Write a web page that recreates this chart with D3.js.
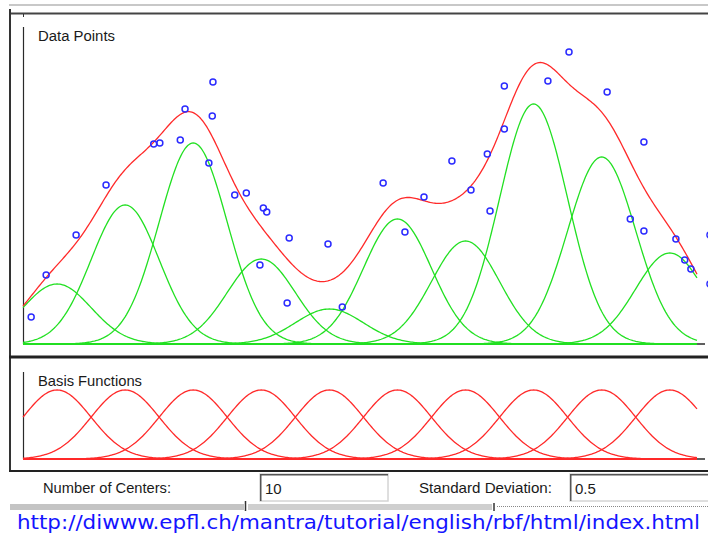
<!DOCTYPE html>
<html>
<head>
<meta charset="utf-8">
<script src="https://cdn.jsdelivr.net/npm/d3@7"></script>
<style>
  html, body { margin: 0; padding: 0; background: #fff; overflow: hidden; }
  svg { display: block; }
</style>
</head>
<body>
<svg id="chart" width="708" height="534"></svg>
<script>
// ---- data ----
const numCenters = 10;
const stdDev = 0.5;
const centers = [0, 1, 2, 3, 4, 5, 6, 7, 8, 9];
const weights = [0.60, 1.39, 2.01, 0.85, 0.35, 1.25, 1.03, 2.40, 1.87, 0.91];
const pointsX = [-0.38, -0.16, 0.28, 0.72, 1.42, 1.51, 1.81, 1.88, 2.23, 2.28, 2.29, 2.61, 2.78, 2.98, 3.03, 3.08, 3.38, 3.41, 3.98, 4.19, 4.79, 5.11, 5.39, 5.80, 6.08, 6.32, 6.36, 6.57, 6.57, 7.21, 7.52, 8.08, 8.42, 8.62, 8.62, 9.09, 9.22, 9.31, 9.59, 9.59];
const pointsY = [0.27, 0.69, 1.09, 1.59, 2.00, 2.01, 2.04, 2.35, 1.81, 2.28, 2.62, 1.49, 1.51, 0.79, 1.36, 1.32, 0.41, 1.06, 1.00, 0.37, 1.61, 1.12, 1.47, 1.83, 1.54, 1.90, 1.33, 2.58, 2.15, 2.63, 2.92, 2.52, 1.25, 2.02, 1.13, 1.05, 0.84, 0.75, 1.09, 0.60];
const xDomain = [-0.5, 9.4];
const topYDomain = [0, 3.17];
const basisYDomain = [0, 1];
const labels = {
  top: "Data Points",
  bottom: "Basis Functions",
  centers: "Number of Centers:",
  sd: "Standard Deviation:",
  url: "http://diwww.epfl.ch/mantra/tutorial/english/rbf/html/index.html"
};

// ---- drawing ----
const svg = d3.select("#chart");
const gauss = (x, c) => Math.exp(-((x - c) * (x - c)) / (2 * stdDev * stdDev));
const xs = d3.range(xDomain[0], xDomain[1] + 1e-9, 0.02);

const x = d3.scaleLinear().domain(xDomain).range([23, 697]);
const yTop = d3.scaleLinear().domain(topYDomain).range([344, 27]);
const yBot = d3.scaleLinear().domain(basisYDomain).range([459, 390]);

// window chrome
svg.append("line").attr("x1", 9).attr("x2", 708).attr("y1", 5).attr("y2", 5)
  .attr("stroke", "#c8c8c8").attr("stroke-width", 2);
svg.append("line").attr("x1", 9).attr("x2", 708).attr("y1", 13.5).attr("y2", 13.5)
  .attr("stroke", "#444").attr("stroke-width", 2);
svg.append("line").attr("x1", 10).attr("x2", 10).attr("y1", 9).attr("y2", 472)
  .attr("stroke", "#333").attr("stroke-width", 2);
svg.append("line").attr("x1", 9).attr("x2", 708).attr("y1", 357).attr("y2", 357)
  .attr("stroke", "#222").attr("stroke-width", 3);
svg.append("line").attr("x1", 9).attr("x2", 708).attr("y1", 471).attr("y2", 471)
  .attr("stroke", "#222").attr("stroke-width", 2);
svg.append("line").attr("x1", 23.5).attr("x2", 23.5).attr("y1", 14).attr("y2", 17)
  .attr("stroke", "#333").attr("stroke-width", 1);

// axes (plain lines)
const axisColor = "#2a2a2a";
svg.append("line").attr("x1", 23.5).attr("x2", 23.5).attr("y1", 27).attr("y2", 344)
  .attr("stroke", axisColor).attr("stroke-width", 1.2);
svg.append("line").attr("x1", 23).attr("x2", 705).attr("y1", 344).attr("y2", 344)
  .attr("stroke", axisColor).attr("stroke-width", 1.6);
svg.append("line").attr("x1", 23.5).attr("x2", 23.5).attr("y1", 372).attr("y2", 459)
  .attr("stroke", axisColor).attr("stroke-width", 1.2);
svg.append("line").attr("x1", 23).attr("x2", 705).attr("y1", 459).attr("y2", 459)
  .attr("stroke", axisColor).attr("stroke-width", 1.6);

// panel titles
svg.append("text").attr("x", 38).attr("y", 41).text(labels.top)
  .attr("font-family", "Liberation Sans, Arial, sans-serif").attr("font-size", 15.5)
  .attr("textLength", 77).attr("lengthAdjust", "spacingAndGlyphs").attr("fill", "#1a1a1a");
svg.append("text").attr("x", 38).attr("y", 386).text(labels.bottom)
  .attr("font-family", "Liberation Sans, Arial, sans-serif").attr("font-size", 15)
  .attr("textLength", 104).attr("lengthAdjust", "spacingAndGlyphs").attr("fill", "#1a1a1a");

// top panel: weighted basis functions (green)
const lineTop = d3.line().x(d => x(d[0])).y(d => yTop(d[1]));
const green = svg.append("g");
centers.forEach((c, i) => {
  green.append("path")
    .datum(xs.map(v => [v, weights[i] * gauss(v, c)]))
    .attr("d", lineTop).attr("fill", "none")
    .attr("stroke", "#22e022").attr("stroke-width", 1.3);
});
// sum (red)
svg.append("path")
  .datum(xs.map(v => [v, d3.sum(centers, (c, i) => weights[i] * gauss(v, c))]))
  .attr("d", lineTop).attr("fill", "none")
  .attr("stroke", "#ff2a2a").attr("stroke-width", 1.3);

// data points
svg.append("g").selectAll("circle")
  .data(pointsX.map((v, i) => [v, pointsY[i]]))
  .join("circle")
  .attr("cx", d => x(d[0])).attr("cy", d => yTop(d[1])).attr("r", 3)
  .attr("fill", "none").attr("stroke", "#2b2bff").attr("stroke-width", 1.5);

// bottom panel basis functions (red)
const lineBot = d3.line().x(d => x(d[0])).y(d => yBot(d[1]));
centers.forEach(c => {
  svg.append("path")
    .datum(xs.map(v => [v, gauss(v, c)]))
    .attr("d", lineBot).attr("fill", "none")
    .attr("stroke", "#ff2a2a").attr("stroke-width", 1.3);
});

// footer controls
const ff = "Liberation Sans, Arial, sans-serif";
svg.append("text").attr("x", 43).attr("y", 493).text(labels.centers)
  .attr("font-family", ff).attr("font-size", 14.5).attr("fill", "#1a1a1a")
  .attr("textLength", 128).attr("lengthAdjust", "spacingAndGlyphs");
svg.append("text").attr("x", 419).attr("y", 493).text(labels.sd)
  .attr("font-family", ff).attr("font-size", 14.5).attr("fill", "#1a1a1a")
  .attr("textLength", 133).attr("lengthAdjust", "spacingAndGlyphs");

function inputBox(x0, x1, value) {
  const g = svg.append("g");
  g.append("rect").attr("x", x0).attr("y", 474).attr("width", x1 - x0).attr("height", 27)
    .attr("fill", "#fff").attr("stroke", "#d4d4d4").attr("stroke-width", 1.5);
  g.append("path").attr("d", `M${x0 + 0.75},501 V${474.75} H${x1}`)
    .attr("fill", "none").attr("stroke", "#555").attr("stroke-width", 1.5);
  g.append("text").attr("x", x0 + 5).attr("y", 494).text(value)
    .attr("font-family", ff).attr("font-size", 15).attr("fill", "#1a1a1a");
}
inputBox(260, 388, String(numCenters));
inputBox(570, 712, String(stdDev));

// slider bars
svg.append("rect").attr("x", 10).attr("y", 504).attr("width", 234).attr("height", 6).attr("fill", "#c4c4c4");
svg.append("rect").attr("x", 248).attr("y", 504).attr("width", 244).attr("height", 6).attr("fill", "#cfcfcf");
svg.append("line").attr("x1", 245.5).attr("x2", 245.5).attr("y1", 501).attr("y2", 511).attr("stroke", "#333").attr("stroke-width", 1.5);
svg.append("line").attr("x1", 494).attr("x2", 494).attr("y1", 503).attr("y2", 511).attr("stroke", "#333").attr("stroke-width", 1.5);
svg.append("line").attr("x1", 497).attr("x2", 708).attr("y1", 506.5).attr("y2", 506.5)
  .attr("stroke", "#888").attr("stroke-width", 1).attr("stroke-dasharray", "1,1");

// URL
svg.append("text").attr("x", 17).attr("y", 529).text(labels.url)
  .attr("font-family", "DejaVu Sans Condensed, DejaVu Sans, Verdana, sans-serif")
  .attr("font-size", 19.5).attr("fill", "#1414ff")
  .attr("textLength", 683).attr("lengthAdjust", "spacingAndGlyphs");
</script>
</body>
</html>
